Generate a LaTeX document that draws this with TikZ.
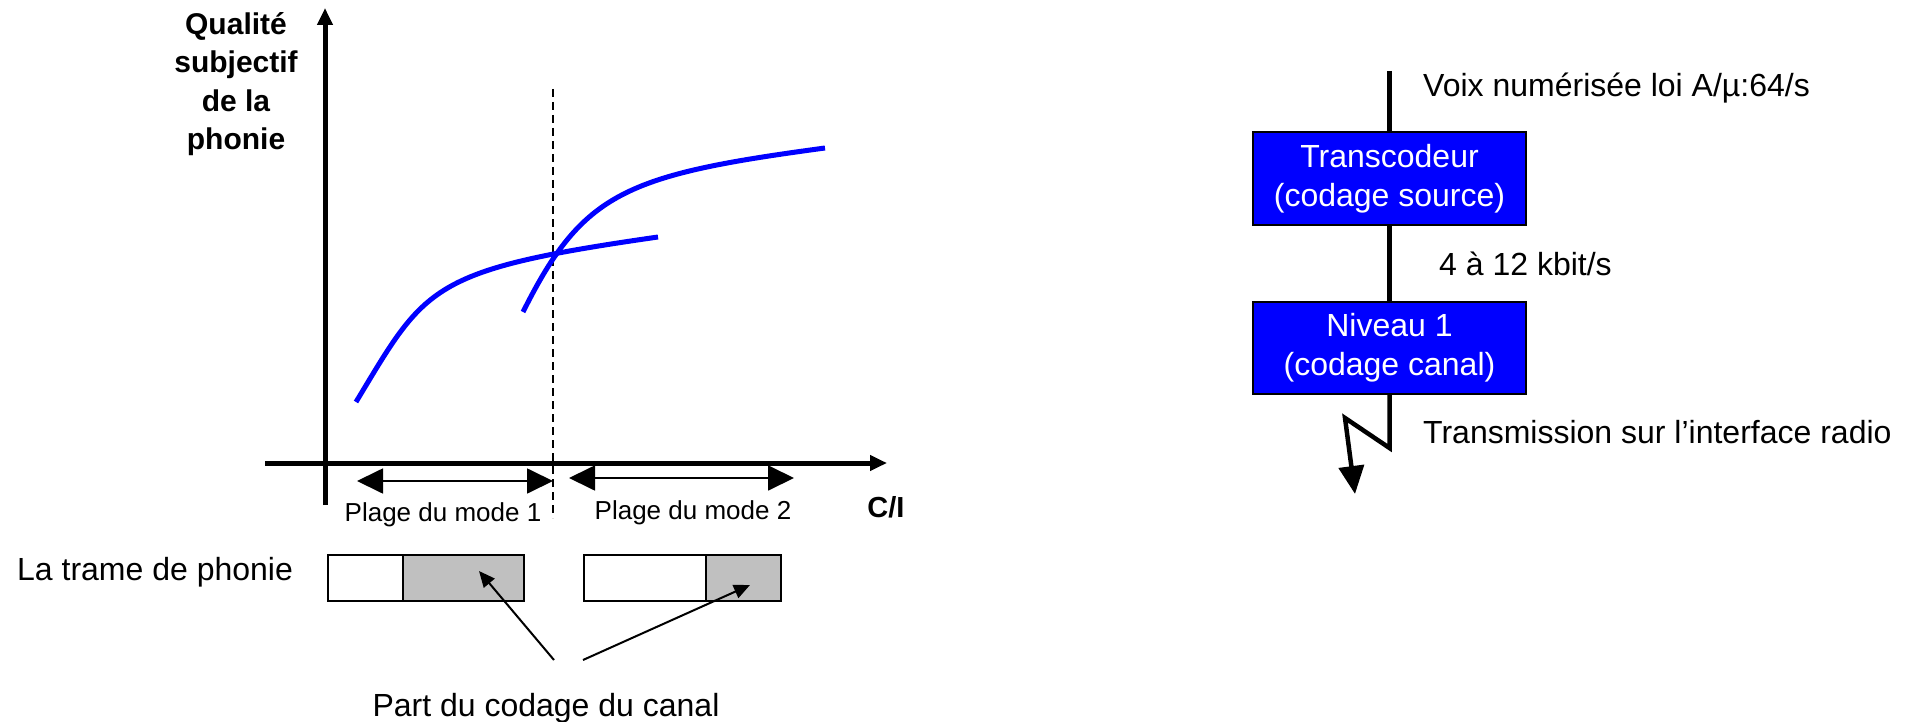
\documentclass[tikz,border=0pt]{standalone}
\usepackage{fontspec}
\setmainfont{Liberation Sans}
\usetikzlibrary{arrows.meta}
\definecolor{pureblue}{RGB}{0,0,255}
\definecolor{framegray}{RGB}{192,192,192}
\tikzset{
  axisline/.style={line width=5pt, -{Triangle[length=17pt,width=15pt]}},
  rangearrow/.style={line width=1.8pt, {Triangle[length=26pt,width=25pt]}-{Triangle[length=26pt,width=25pt]}},
  qcurve/.style={line width=5pt, draw=pureblue},
  guide/.style={line width=1.5pt, dash pattern=on 8pt off 5pt},
  bigtxt/.style={font=\fontsize{32}{39}\selectfont, inner sep=0pt},
  smalltxt/.style={font=\fontsize{26}{31}\selectfont, inner sep=0pt},
  boldtxt/.style={font=\fontsize{30}{38.5}\selectfont\bfseries, inner sep=0pt, align=center},
  codebox/.style={draw=black, line width=2pt, fill=pureblue, text=white, minimum width=273pt, minimum height=92pt, align=center, inner sep=0pt, font=\fontsize{32}{39}\selectfont},
  framecell/.style={draw=black, line width=2pt, minimum height=46pt, inner sep=0pt, anchor=north west},
  pointer/.style={line width=2pt, -{Triangle[length=16pt,width=14pt]}},
  signal/.style={line width=4.5pt},
}
\begin{document}
\begin{tikzpicture}[x=1pt,y=-1pt]
\useasboundingbox (0,0) rectangle (1910,722);

% axes
\coordinate (yb) at (325,505);
\coordinate (yt) at (325,8);
\coordinate (xl) at (265,463);
\coordinate (xr) at (887,463);
\draw[axisline] (yb) -- (yt);
\draw[axisline] (xl) -- (xr);

% dashed separator
\coordinate (dt) at (553,89);
\coordinate (db) at (553,518);
\draw[guide] (dt) -- (db);

% curves
\draw[qcurve] (356,402) .. controls (426,286) and (428,270) .. (658,237);
\draw[qcurve] (523,312) .. controls (583,192) and (625,175) .. (825,148);

% range arrows
\coordinate (r1a) at (357,481);
\coordinate (r1b) at (553,481);
\coordinate (r2a) at (569,478);
\coordinate (r2b) at (794,478);
\draw[rangearrow] (r1a) -- (r1b);
\draw[rangearrow] (r2a) -- (r2b);
\node[smalltxt, anchor=base] (p1) at (443,521) {Plage du mode 1};
\node[smalltxt, anchor=base] (p2) at (693,519) {Plage du mode 2};

% labels
\node[boldtxt, anchor=base] (ql) at (236,150) {Qualité\\subjectif\\de la\\phonie};
\node[font=\fontsize{29}{34}\selectfont\bfseries, inner sep=0pt, anchor=base] (ci) at (886,517) {C/I};

% frames
\node[bigtxt, anchor=base west] (trame) at (17,580) {La trame de phonie};
\node[framecell, minimum width=75pt] (f1a) at (326.7,554) {};
\node[framecell, fill=framegray, minimum width=121.6pt] (f1b) at (401.7,554) {};
\node[framecell, minimum width=121.7pt] (f2a) at (583.3,554) {};
\node[framecell, fill=framegray, minimum width=75pt] (f2b) at (705,554) {};

\node[bigtxt, anchor=base] (part) at (546,716) {Part du codage du canal};
\coordinate (s1) at (554,660);
\coordinate (s2) at (583,660);
\coordinate (t1) at (479,571);
\coordinate (t2) at (750,585);
\draw[pointer] (s1) -- (t1);
\draw[pointer] (s2) -- (t2);

% right block
\coordinate (top) at (1389.5,71);
\node[codebox] (tc) at (1389.5,178.5) {Transcodeur\\(codage source)};
\node[codebox] (n1) at (1389.5,347.5) {Niveau 1\\(codage canal)};
\coordinate (zz1) at (1389.5,448);
\coordinate (zz2) at (1345,418);
\coordinate (zz3) at (1355,494);
\draw[signal] (top) -- (tc.north);
\draw[signal] (tc.south) -- (n1.north);
\draw[signal, line join=miter, -{Triangle[length=28pt,width=25pt]}] (n1.south) -- (zz1) -- (zz2) -- (zz3);

\node[bigtxt, anchor=base west] (voix) at (1423,97) {Voix numérisée loi A/µ:64/s};
\node[bigtxt, anchor=base west] (rate) at (1439,275) {4 à 12 kbit/s};
\node[bigtxt, anchor=base west] (trans) at (1423,443) {Transmission sur l’interface radio};
\end{tikzpicture}
\end{document}
